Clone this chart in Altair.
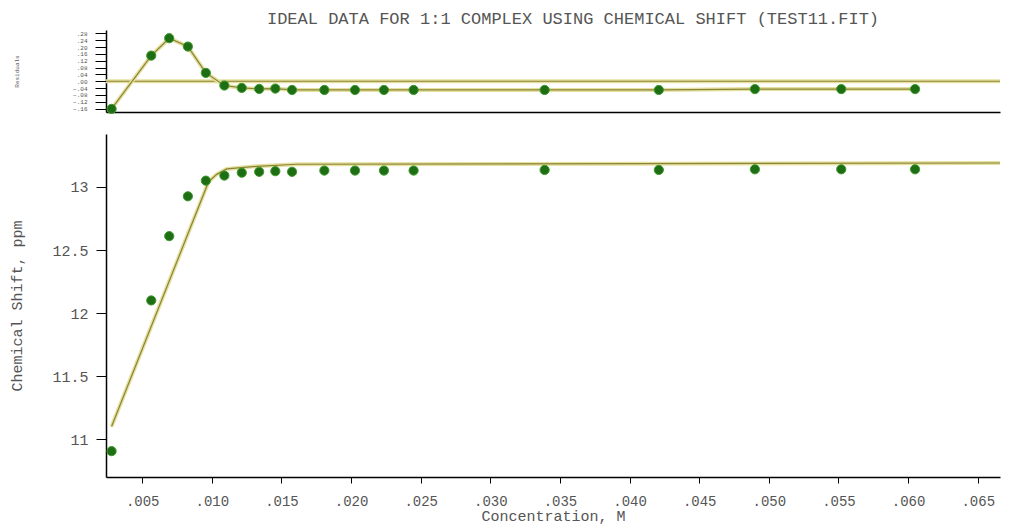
import altair as alt
import pandas as pd

# Concentration (M), observed chemical shift (ppm) and fit residuals
conc = [0.0028, 0.00565, 0.00694, 0.00828, 0.00957, 0.0109, 0.01215, 0.0134,
        0.01456, 0.01576, 0.01808, 0.02028, 0.02236, 0.02449, 0.0339, 0.0421,
        0.0490, 0.0552, 0.0605]
shift = [10.905, 12.10, 12.61, 12.926, 13.05, 13.09, 13.113, 13.12, 13.125,
         13.12, 13.13, 13.13, 13.13, 13.13, 13.135, 13.135, 13.14, 13.14, 13.14]
resid = [-0.162, 0.150, 0.252, 0.203, 0.049, -0.025, -0.039, -0.045, -0.043,
         -0.051, -0.051, -0.051, -0.051, -0.051, -0.051, -0.051, -0.046,
         -0.046, -0.046]

# Fitted 1:1 binding curve
fit_conc = [0.0028, 0.00976, 0.01035, 0.01107, 0.01323, 0.0161, 0.0666]
fit_shift = [11.10, 13.04, 13.10, 13.143, 13.164, 13.18, 13.19]

x_ticks = [0.005, 0.010, 0.015, 0.020, 0.025, 0.030, 0.035, 0.040, 0.045,
           0.050, 0.055, 0.060, 0.065]
y_ticks = [11, 11.5, 12, 12.5, 13]
r_ticks = [-0.16, -0.12, -0.08, -0.04, 0.0, 0.04, 0.08, 0.12, 0.16, 0.20, 0.24, 0.28]

FONT = "Liberation Mono"
TEXT = "#555555"
PT_FILL = "#1d6e14"
PT_EDGE = "#3f9a2a"
LINE = "#8a8536"
HALO = "#e6e0a0"

obs = pd.DataFrame({"conc": conc, "shift": shift, "resid": resid})
fit = pd.DataFrame({"conc": fit_conc, "shift": fit_shift})
zero = pd.DataFrame({"r": [0.0]})

x_dom = [0.0024, 0.0666]

x_top = alt.X("conc:Q", scale=alt.Scale(domain=x_dom, nice=False, zero=False),
              axis=alt.Axis(labels=False, ticks=False, title=None,
                            domainColor="black", domainWidth=1.5, grid=False))

x_bot = alt.X("conc:Q", scale=alt.Scale(domain=x_dom, nice=False, zero=False),
              axis=alt.Axis(values=x_ticks, title="Concentration, M",
                            labelExpr="substring(format(datum.value, '.3f'), 1)",
                            labelFont=FONT, labelFontSize=14, labelColor=TEXT,
                            titleFont=FONT, titleFontSize=15, titleColor=TEXT,
                            titleFontWeight="normal", labelPadding=11, titlePadding=0,
                            tickSize=6, tickColor="black", domainColor="black",
                            domainWidth=1.5, grid=False, labelFlush=False))

r_scale = alt.Scale(domain=[-0.18, 0.30], nice=False, zero=False)
r_axis = alt.Axis(values=r_ticks, tickCount=12, title="Residuals",
                  labelExpr="replace(format(datum.value, '.2f'), '0.', '.')",
                  labelFont=FONT, labelFontSize=6, labelColor=TEXT,
                  titleFont=FONT, titleFontSize=6, titleColor=TEXT,
                  titleFontWeight="normal", labelPadding=8, titlePadding=53,
                  tickSize=11, tickColor="black", domainColor="black",
                  domainWidth=1.5, grid=False, labelOverlap=False,
                  labelBound=False)

y_scale = alt.Scale(domain=[10.7, 13.42], nice=False, zero=False)
y_axis = alt.Axis(values=y_ticks, title="Chemical Shift, ppm",
                  labelExpr="format(datum.value, '~g')",
                  labelFont=FONT, labelFontSize=15, labelColor=TEXT,
                  titleFont=FONT, titleFontSize=15, titleColor=TEXT,
                  titleFontWeight="normal", labelPadding=8, titlePadding=27,
                  tickSize=10, tickColor="black", domainColor="black",
                  domainWidth=1.5, grid=False)

# Residual panel
zero_halo = alt.Chart(zero).mark_rule(color=HALO, strokeWidth=4).encode(
    y=alt.Y("r:Q", scale=r_scale, axis=r_axis))
zero_line = alt.Chart(zero).mark_rule(color=LINE, strokeWidth=1.2).encode(
    y=alt.Y("r:Q", scale=r_scale, axis=r_axis))
r_halo = alt.Chart(obs).mark_line(color=HALO, strokeWidth=4).encode(
    x=x_top, y=alt.Y("resid:Q", scale=r_scale, axis=r_axis))
r_line = alt.Chart(obs).mark_line(color=LINE, strokeWidth=1.2).encode(
    x=x_top, y=alt.Y("resid:Q", scale=r_scale, axis=r_axis))
r_pts = alt.Chart(obs).mark_circle(size=85, opacity=1, color=PT_FILL,
                                   stroke=PT_EDGE, strokeWidth=1).encode(
    x=x_top, y=alt.Y("resid:Q", scale=r_scale, axis=r_axis))

top = alt.layer(zero_halo, zero_line, r_halo, r_line, r_pts).properties(
    width=894, height=82)

# Chemical shift panel
f_halo = alt.Chart(fit).mark_line(color=HALO, strokeWidth=4).encode(
    x=x_bot, y=alt.Y("shift:Q", scale=y_scale, axis=y_axis))
f_line = alt.Chart(fit).mark_line(color=LINE, strokeWidth=1.2).encode(
    x=x_bot, y=alt.Y("shift:Q", scale=y_scale, axis=y_axis))
s_pts = alt.Chart(obs).mark_circle(size=85, opacity=1, color=PT_FILL,
                                   stroke=PT_EDGE, strokeWidth=1).encode(
    x=x_bot, y=alt.Y("shift:Q", scale=y_scale, axis=y_axis))

bottom = alt.layer(f_halo, f_line, s_pts).properties(width=894, height=343)

chart = alt.vconcat(top, bottom, spacing=17).properties(
    title=alt.TitleParams("IDEAL DATA FOR 1:1 COMPLEX USING CHEMICAL SHIFT (TEST11.FIT)",
                          font=FONT, fontSize=17, fontWeight="normal",
                          color=TEXT, anchor="middle", dx=64, offset=2),
    padding={"left": 9, "top": 10, "right": 5, "bottom": 3},
).configure(background="white", view=alt.ViewConfig(stroke=None))

chart.save("out.html", embed_options={"renderer": "svg", "actions": False})
